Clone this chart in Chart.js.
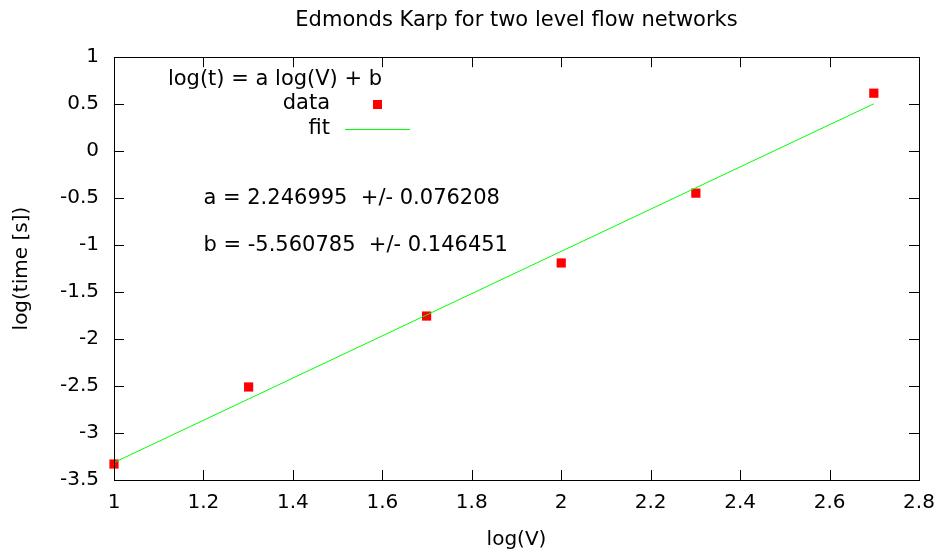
<!DOCTYPE html>
<html>
<head>
<meta charset="utf-8">
<script src="https://cdn.jsdelivr.net/npm/chart.js@4.4.0/dist/chart.umd.min.js"></script>
<style>
  html, body { margin: 0; padding: 0; background: #fff; }
</style>
</head>
<body>
<canvas id="chart" width="942" height="555"></canvas>
<script>
// measured points, log10 of graph size vs log10 of run time
const logV = [1, 1.30103, 1.69897, 2, 2.30103, 2.69897]
const logTime = [-3.33, -2.51, -1.755, -1.19, -0.447, 0.617]

// ends of the fitted line
const fitX = [1, 2.69897]
const fitY = [-3.314, 0.504]

const xTicks = [1, 1.2, 1.4, 1.6, 1.8, 2, 2.2, 2.4, 2.6, 2.8]
const yTicks = [-3.5, -3, -2.5, -2, -1.5, -1, -0.5, 0, 0.5, 1]

const keyTitle = "log(t) = a log(V) + b"
const seriesNames = ["data", "fit"]
const fitLabels = ["a = 2.246995  +/- 0.076208", "b = -5.560785  +/- 0.146451"]

const FONT = "'DejaVu Sans', sans-serif"
const RED = "#ff0000"
const GREEN = "#00ff00"

// gnuplot-like frame: border, inward ticks on all four sides, key and labels
const gnuplotFrame = {
  id: "gnuplotFrame",
  afterDraw(chart) {
    const { ctx, chartArea: a, scales } = chart
    const x = scales.x
    const y = scales.y
    const tick = 10

    ctx.save()
    ctx.strokeStyle = "#000"
    ctx.lineWidth = 1
    ctx.beginPath()
    xTicks.forEach((v) => {
      const px = Math.round(x.getPixelForValue(v)) + 0.5
      ctx.moveTo(px, a.bottom)
      ctx.lineTo(px, a.bottom - tick)
      ctx.moveTo(px, a.top)
      ctx.lineTo(px, a.top + tick)
    })
    yTicks.forEach((v) => {
      const py = Math.round(y.getPixelForValue(v)) + 0.5
      ctx.moveTo(a.left, py)
      ctx.lineTo(a.left + tick, py)
      ctx.moveTo(a.right, py)
      ctx.lineTo(a.right - tick, py)
    })
    ctx.stroke()
    ctx.strokeRect(Math.round(a.left) + 0.5, Math.round(a.top) + 0.5,
      Math.round(a.right - a.left), Math.round(a.bottom - a.top))

    // key
    ctx.fillStyle = "#000"
    ctx.font = "21px " + FONT
    ctx.textBaseline = "middle"
    ctx.textAlign = "center"
    ctx.fillText(keyTitle, 275, 80)
    ctx.textAlign = "right"
    ctx.fillText(seriesNames[0], 330, 104)
    ctx.fillText(seriesNames[1], 330, 129)
    ctx.fillStyle = RED
    ctx.fillRect(373, 100, 9, 9)
    ctx.strokeStyle = GREEN
    ctx.beginPath()
    ctx.moveTo(345, 129.5)
    ctx.lineTo(410, 129.5)
    ctx.stroke()

    // fit parameter labels, placed in first axis coordinates
    ctx.fillStyle = "#000"
    ctx.textAlign = "left"
    ctx.fillText(fitLabels[0], x.getPixelForValue(1.2), y.getPixelForValue(-0.5))
    ctx.fillText(fitLabels[1], x.getPixelForValue(1.2), y.getPixelForValue(-1))
    ctx.restore()
  },
}

Chart.defaults.font.family = FONT
Chart.defaults.color = "#000"

new Chart(document.getElementById("chart").getContext("2d"), {
  type: "scatter",
  data: {
    datasets: [
      {
        label: seriesNames[1],
        data: fitX.map((v, i) => ({ x: v, y: fitY[i] })),
        showLine: true,
        borderColor: GREEN,
        borderWidth: 1,
        pointRadius: 0,
        clip: false,
      },
      {
        label: seriesNames[0],
        data: logV.map((v, i) => ({ x: v, y: logTime[i] })),
        backgroundColor: RED,
        borderWidth: 0,
        pointStyle: "rect",
        pointRadius: 6.5,
        clip: false,
      },
    ],
  },
  options: {
    responsive: false,
    animation: false,
    devicePixelRatio: 1,
    layout: { padding: { left: 0, right: 23, top: 0, bottom: 0 } },
    plugins: {
      legend: { display: false },
      tooltip: { enabled: false },
      title: {
        display: true,
        fullSize: false,
        text: "Edmonds Karp for two level flow networks",
        font: { size: 21, weight: "normal" },
        padding: { top: 8, bottom: 24 },
      },
    },
    scales: {
      x: {
        type: "linear",
        min: 1,
        max: 2.8,
        afterBuildTicks: (s) => { s.ticks = xTicks.map((v) => ({ value: v })) },
        afterFit: (s) => {
          s.height = 75
          s.paddingLeft = 0
          s.paddingRight = 0
        },
        grid: { display: false, drawTicks: false },
        border: { display: false },
        ticks: {
          autoSkip: false,
          maxRotation: 0,
          padding: 11,
          font: { size: 20 },
          callback: (v) => String(Number(v.toFixed(1))),
        },
        title: {
          display: true,
          text: "log(V)",
          font: { size: 20 },
          padding: { top: 0, bottom: 3 },
        },
      },
      y: {
        type: "linear",
        min: -3.5,
        max: 1,
        afterBuildTicks: (s) => { s.ticks = yTicks.map((v) => ({ value: v })) },
        afterFit: (s) => {
          s.width = 114
          s.paddingTop = 0
          s.paddingBottom = 0
        },
        grid: { display: false, drawTicks: false },
        border: { display: false },
        ticks: {
          autoSkip: false,
          padding: 15,
          font: { size: 20 },
          callback: (v) => String(Number(v.toFixed(1))),
        },
        title: {
          display: true,
          text: "log(time [s])",
          font: { size: 20 },
          padding: { top: 10, bottom: 0 },
        },
      },
    },
  },
  plugins: [gnuplotFrame],
})
</script>
</body>
</html>
